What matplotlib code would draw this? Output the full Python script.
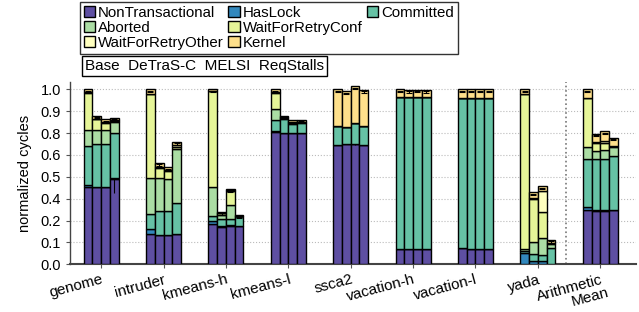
import numpy as np
import matplotlib
matplotlib.use("Agg")
import matplotlib.pyplot as plt
from matplotlib.patches import Patch

plt.rcParams['font.family'] = ['Liberation Sans', 'DejaVu Sans']

categories = ["genome", "intruder", "kmeans-h", "kmeans-l", "ssca2",
              "vacation-h", "vacation-l", "yada", "Arithmetic\nMean"]
configs = ["Base", "DeTraS-C", "MELSI", "ReqStalls"]
segments = ["NonTransactional", "HasLock", "Committed", "Aborted",
            "WaitForRetryConf", "WaitForRetryOther", "Kernel"]

# segment heights, one row per benchmark, one column per config
nontx = [[0.443, 0.441, 0.439, 0.490],
         [0.173, 0.167, 0.167, 0.173],
         [0.230, 0.213, 0.220, 0.219],
         [0.757, 0.751, 0.749, 0.749],
         [0.683, 0.686, 0.690, 0.683],
         [0.087, 0.086, 0.087, 0.085],
         [0.091, 0.089, 0.090, 0.088],
         [0.004, 0.004, 0.004, 0.001],
         [0.310, 0.306, 0.306, 0.310]]
haslock = [[0.013, 0.003, 0.003, 0.002],
           [0.027, 0.003, 0.003, 0.002],
           [0.019, 0.003, 0.002, 0.002],
           [0.004, 0.0, 0.0, 0.0],
           [0.0, 0.0, 0.0, 0.0],
           [0.0, 0.0, 0.0, 0.0],
           [0.0, 0.0, 0.0, 0.0],
           [0.059, 0.017, 0.012, 0.002],
           [0.015, 0.003, 0.003, 0.002]]
committed = [[0.223, 0.242, 0.248, 0.257],
             [0.088, 0.134, 0.136, 0.173],
             [0.027, 0.041, 0.037, 0.055],
             [0.066, 0.078, 0.055, 0.061],
             [0.108, 0.097, 0.120, 0.108],
             [0.869, 0.868, 0.867, 0.869],
             [0.860, 0.862, 0.860, 0.863],
             [0.013, 0.036, 0.036, 0.090],
             [0.275, 0.290, 0.294, 0.306]]
aborted = [[0.087, 0.080, 0.076, 0.067],
           [0.208, 0.190, 0.179, 0.310],
           [0.163, 0.024, 0.081, 0.0],
           [0.061, 0.009, 0.004, 0.003],
           [0.0, 0.0, 0.0, 0.0],
           [0.0, 0.0, 0.0, 0.0],
           [0.0, 0.0, 0.0, 0.0],
           [0.010, 0.071, 0.096, 0.025],
           [0.071, 0.049, 0.053, 0.053]]
wfr_conf = [[0.214, 0.063, 0.042, 0.004],
            [0.475, 0.059, 0.049, 0.015],
            [0.550, 0.014, 0.080, 0.0],
            [0.093, 0.0, 0.0, 0.0],
            [0.0, 0.0, 0.0, 0.0],
            [0.0, 0.0, 0.0, 0.0],
            [0.0, 0.0, 0.0, 0.0],
            [0.885, 0.243, 0.149, 0.002],
            [0.280, 0.048, 0.040, 0.003]]
wfr_other = [[0.004, 0.004, 0.004, 0.003],
             [0.004, 0.004, 0.004, 0.007],
             [0.002, 0.0, 0.002, 0.0],
             [0.004, 0.002, 0.003, 0.002],
             [0.0, 0.0, 0.0, 0.0],
             [0.0, 0.0, 0.0, 0.0],
             [0.0, 0.0, 0.0, 0.0],
             [0.004, 0.008, 0.121, 0.002],
             [0.002, 0.004, 0.010, 0.002]]
kernel = [[0.016, 0.017, 0.017, 0.013],
          [0.025, 0.023, 0.017, 0.020],
          [0.009, 0.004, 0.008, 0.004],
          [0.015, 0.010, 0.012, 0.012],
          [0.209, 0.207, 0.207, 0.207],
          [0.044, 0.044, 0.045, 0.044],
          [0.049, 0.049, 0.050, 0.049],
          [0.025, 0.032, 0.027, 0.018],
          [0.047, 0.047, 0.054, 0.048]]
# error on the NonTransactional part (only a few are visible)
nontx_err = [[0.0, 0.0, 0.0, 0.08],
             [0.0, 0.0, 0.0, 0.0],
             [0.0, 0.0, 0.0, 0.0],
             [0.0, 0.0, 0.0, 0.0],
             [0.0, 0.0, 0.01, 0.0],
             [0.0, 0.0, 0.0, 0.0],
             [0.0, 0.0, 0.0, 0.0],
             [0.0, 0.0, 0.0, 0.0],
             [0.0, 0.0, 0.0, 0.0]]

data = [nontx, haslock, committed, aborted, wfr_conf, wfr_other, kernel]
colors = ["#5e4fa2", "#3288bd", "#66c2a5", "#abdda4", "#e6f598", "#ffffbf", "#fee08b"]

fig = plt.figure(figsize=(6.39, 3.12), dpi=100)
ax = fig.add_axes([0.1095, 0.153, 0.8855, 0.583])

x = np.arange(len(categories))
width = 0.14
offsets = (np.arange(len(configs)) - 1.5) * width

for j in range(len(configs)):
    xs = x + offsets[j]
    bottom = np.zeros(len(categories))
    for k in range(len(segments)):
        h = np.array([row[j] for row in data[k]])
        ax.bar(xs, h, width, bottom=bottom, color=colors[k],
               edgecolor='black', linewidth=1.0, zorder=3)
        if k == 0:
            err = np.array([row[j] for row in nontx_err])
            ax.errorbar(xs, h, yerr=[err, np.zeros_like(err)], fmt='none',
                        ecolor='black', elinewidth=0.8, capsize=0, zorder=4)
        bottom = bottom + h
    ax.errorbar(xs, bottom - 0.012, yerr=0.004, fmt='none', ecolor='black',
                elinewidth=0.8, capsize=2, capthick=0.8, zorder=4)

ax.set_xlim(-0.5, 8.57)
ax.set_ylim(0, 1.04)
yt = np.arange(0, 1.001, 0.125)
ax.set_yticks(yt)
ax.set_yticklabels(['%.1f' % v for v in yt], fontsize=10.5)
ax.yaxis.grid(True, linestyle=':', color='#bbbbbb', linewidth=0.8, zorder=0)
ax.set_axisbelow(True)
ax.set_ylabel("normalized cycles", fontsize=10.5, labelpad=6)
ax.set_xticks(x)
# the two-line last label is drawn as two pieces so it stays inside the figure
first_lines = [c.split("\n")[0] for c in categories]
ax.set_xticklabels(first_lines, rotation=15, ha='right', rotation_mode='anchor',
                   fontsize=11)
ax.annotate(categories[-1].split("\n")[1], xy=(x[-1], 0),
            xycoords=('data', 'axes fraction'), xytext=(5, -15),
            textcoords='offset points', rotation=15, rotation_mode='anchor',
            ha='right', va='top', fontsize=11)
ax.tick_params(axis='both', length=3, width=0.8, color='#555555')
ax.tick_params(axis='x', pad=3)
for s in ['top', 'right']:
    ax.spines[s].set_visible(False)
for s in ['left', 'bottom']:
    ax.spines[s].set_color('#444444')
ax.spines['bottom'].set_linewidth(1.5)
ax.spines['left'].set_linewidth(1.0)
ax.axvline(7.45, color='#777777', linestyle=':', linewidth=1.2, zorder=2)

handles = [Patch(facecolor=c, edgecolor='black', linewidth=1.0) for c in colors]
order = [0, 3, 5, 1, 4, 6, 2]
hs = [handles[i] for i in order] + [Patch(visible=False)]
ls = [segments[i] for i in order] + [""]
leg = fig.legend(hs, ls, loc='upper left', bbox_to_anchor=(80 / 639, 1 - 2 / 312),
                 ncol=3, fontsize=10.8, frameon=True, fancybox=False,
                 handlelength=0.75, handleheight=0.75, handletextpad=0.2,
                 columnspacing=0.3, labelspacing=0.08, borderpad=0.25,
                 borderaxespad=0)
leg.get_frame().set_edgecolor('black')
leg.get_frame().set_linewidth(1.0)

fig.text(85 / 639, 1 - 66 / 312, "Base  DeTraS-C  MELSI  ReqStalls", fontsize=11,
         va='center', ha='left',
         bbox=dict(boxstyle='square,pad=0.2', facecolor='white', edgecolor='black', linewidth=1.0))

fig.savefig("out.png", dpi=100)
